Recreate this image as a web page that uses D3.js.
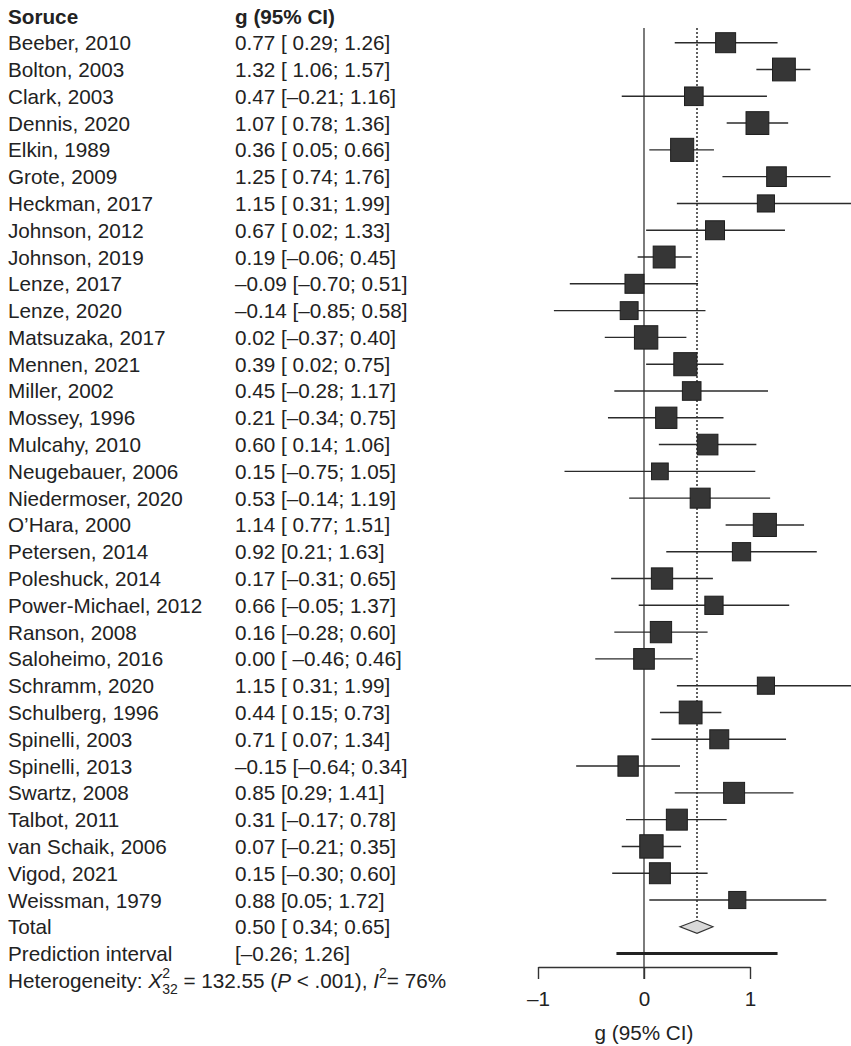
<!DOCTYPE html>
<html>
<head>
<meta charset="utf-8">
<script src="https://cdn.jsdelivr.net/npm/d3@7"></script>
<style>
  html, body { margin: 0; padding: 0; background: #fff; }
  svg { display: block; }
  text { font-family: "Liberation Sans", Arial, Helvetica, sans-serif; fill: #222; }
</style>
</head>
<body>
<svg id="chart" width="851" height="1046"></svg>
<script>
// ---------------- DATA ----------------
const studies = ["Beeber, 2010","Bolton, 2003","Clark, 2003","Dennis, 2020","Elkin, 1989","Grote, 2009",
  "Heckman, 2017","Johnson, 2012","Johnson, 2019","Lenze, 2017","Lenze, 2020","Matsuzaka, 2017",
  "Mennen, 2021","Miller, 2002","Mossey, 1996","Mulcahy, 2010","Neugebauer, 2006","Niedermoser, 2020",
  "O\u2019Hara, 2000","Petersen, 2014","Poleshuck, 2014","Power-Michael, 2012","Ranson, 2008",
  "Saloheimo, 2016","Schramm, 2020","Schulberg, 1996","Spinelli, 2003","Spinelli, 2013","Swartz, 2008",
  "Talbot, 2011","van Schaik, 2006","Vigod, 2021","Weissman, 1979"];
const g     = [0.77,1.32,0.47,1.07,0.36,1.25,1.15,0.67,0.19,-0.09,-0.14,0.02,0.39,0.45,0.21,0.60,0.15,0.53,1.14,0.92,0.17,0.66,0.16,0.00,1.15,0.44,0.71,-0.15,0.85,0.31,0.07,0.15,0.88];
const lower = [0.29,1.06,-0.21,0.78,0.05,0.74,0.31,0.02,-0.06,-0.70,-0.85,-0.37,0.02,-0.28,-0.34,0.14,-0.75,-0.14,0.77,0.21,-0.31,-0.05,-0.28,-0.46,0.31,0.15,0.07,-0.64,0.29,-0.17,-0.21,-0.30,0.05];
const upper = [1.26,1.57,1.16,1.36,0.66,1.76,1.99,1.33,0.45,0.51,0.58,0.40,0.75,1.17,0.75,1.06,1.05,1.19,1.51,1.63,0.65,1.37,0.60,0.46,1.99,0.73,1.34,0.34,1.41,0.78,0.35,0.60,1.72];
const weights = [3.0,3.9,2.6,3.9,4.0,2.9,2.2,2.7,3.6,2.7,2.4,4.1,4.0,2.6,3.4,3.2,2.1,3.0,4.0,2.5,3.4,2.5,3.4,3.2,2.2,3.9,2.7,3.1,3.3,3.3,4.1,3.3,2.2];
const ciText = ["0.77 [ 0.29; 1.26]","1.32 [ 1.06; 1.57]","0.47 [\u20130.21; 1.16]","1.07 [ 0.78; 1.36]",
  "0.36 [ 0.05; 0.66]","1.25 [ 0.74; 1.76]","1.15 [ 0.31; 1.99]","0.67 [ 0.02; 1.33]","0.19 [\u20130.06; 0.45]",
  "\u20130.09 [\u20130.70; 0.51]","\u20130.14 [\u20130.85; 0.58]","0.02 [\u20130.37; 0.40]","0.39 [ 0.02; 0.75]",
  "0.45 [\u20130.28; 1.17]","0.21 [\u20130.34; 0.75]","0.60 [ 0.14; 1.06]","0.15 [\u20130.75; 1.05]",
  "0.53 [\u20130.14; 1.19]","1.14 [ 0.77; 1.51]","0.92 [0.21; 1.63]","0.17 [\u20130.31; 0.65]",
  "0.66 [\u20130.05; 1.37]","0.16 [\u20130.28; 0.60]","0.00 [ \u20130.46; 0.46]","1.15 [ 0.31; 1.99]",
  "0.44 [ 0.15; 0.73]","0.71 [ 0.07; 1.34]","\u20130.15 [\u20130.64; 0.34]","0.85 [0.29; 1.41]",
  "0.31 [\u20130.17; 0.78]","0.07 [\u20130.21; 0.35]","0.15 [\u20130.30; 0.60]","0.88 [0.05; 1.72]"];
const total = {g: 0.50, lower: 0.34, upper: 0.65, text: "0.50 [ 0.34; 0.65]"};
const prediction = {lower: -0.26, upper: 1.26, text: "[\u20130.26; 1.26]"};
const headers = ["Soruce", "g (95% CI)"];
const xTicks = [-1, 0, 1];
const xTickLabels = ["\u20131", "0", "1"];
const axisTitle = "g (95% CI)";

// ---------------- LAYOUT ----------------
const svg = d3.select("#chart");
const FS = 20.7;
const col1 = 8, col2 = 235;
const x = d3.scaleLinear().domain([-1, 1]).range([538, 750]);
const nRows = studies.length;               // 33
const y = d3.scaleLinear().domain([0, nRows + 1]).range([42.7, 953.6]);
const side = d3.scaleSqrt().domain([0, 3]).range([0, 20]);
const baseOff = 7.5;
const ink = "#2b2b2b";

// header
svg.append("text").attr("x", col1).attr("y", y(-1) + 8.5)
  .attr("font-size", FS).attr("font-weight", "bold").text(headers[0]);
svg.append("text").attr("x", col2).attr("y", y(-1) + 8.5)
  .attr("font-size", FS).attr("font-weight", "bold").text(headers[1]);

// study labels
const rows = studies.map((s, i) => ({s, g: g[i], lo: lower[i], hi: upper[i], w: weights[i], t: ciText[i], i}));
svg.selectAll("text.study").data(rows).join("text").attr("class", "study")
  .attr("x", col1).attr("y", d => y(d.i) + baseOff).attr("font-size", FS).text(d => d.s);
svg.selectAll("text.ci").data(rows).join("text").attr("class", "ci")
  .attr("x", col2).attr("y", d => y(d.i) + baseOff).attr("font-size", FS).text(d => d.t);

// total & prediction text
svg.append("text").attr("x", col1).attr("y", y(nRows) + baseOff).attr("font-size", FS).text("Total");
svg.append("text").attr("x", col2).attr("y", y(nRows) + baseOff).attr("font-size", FS).text(total.text);
svg.append("text").attr("x", col1).attr("y", y(nRows + 1) + baseOff).attr("font-size", FS).text("Prediction interval");
svg.append("text").attr("x", col2).attr("y", y(nRows + 1) + baseOff).attr("font-size", FS).text(prediction.text);

// heterogeneity line, built from pieces
(function () {
  const base = y(nRows + 2) + baseOff;
  let cx = col1;
  function piece(str, opts) {
    opts = opts || {};
    const t = svg.append("text").attr("x", cx).attr("y", base + (opts.dy || 0))
      .attr("font-size", opts.size || FS).attr("font-style", opts.italic ? "italic" : null).text(str);
    t.attr("xml:space", "preserve").style("white-space", "pre");
    return t.node().getComputedTextLength();
  }
  cx += piece("Heterogeneity: ");
  cx += piece("X", {italic: true});
  const w1 = piece("2", {size: 14, dy: -10});
  const w2 = piece("32", {size: 14, dy: 6});
  cx += Math.max(w1, w2);
  cx += piece(" = 132.55 (");
  cx += piece("P", {italic: true});
  cx += piece(" < .001), ");
  cx += piece("I", {italic: true});
  cx += piece("2", {size: 14, dy: -10});
  cx += piece("= 76%");
})();

// vertical reference lines
const yTop = 28;
const axisY = 967;
svg.append("line").attr("x1", x(0)).attr("x2", x(0)).attr("y1", yTop).attr("y2", axisY + 12)
  .attr("stroke", "#444").attr("stroke-width", 1.4);
svg.append("line").attr("x1", x(total.g)).attr("x2", x(total.g)).attr("y1", yTop).attr("y2", y(nRows) - 6.5)
  .attr("stroke", "#444").attr("stroke-width", 1.7).attr("stroke-dasharray", "2,2");

// CI lines
svg.selectAll("line.ci").data(rows).join("line").attr("class", "ci")
  .attr("x1", d => x(d.lo)).attr("x2", d => x(d.hi))
  .attr("y1", d => y(d.i)).attr("y2", d => y(d.i))
  .attr("stroke", ink).attr("stroke-width", 1.4);

// squares
svg.selectAll("rect.sq").data(rows).join("rect").attr("class", "sq")
  .attr("x", d => x(d.g) - side(d.w) / 2).attr("y", d => y(d.i) - side(d.w) / 2)
  .attr("width", d => side(d.w)).attr("height", d => side(d.w))
  .attr("fill", "#363636").attr("stroke", "#1e1e1e").attr("stroke-width", 1);

// diamond
const ty = y(nRows), hh = 6.5;
svg.append("path")
  .attr("d", `M${x(total.lower)},${ty} L${x(total.g)},${ty - hh} L${x(total.upper)},${ty} L${x(total.g)},${ty + hh} Z`)
  .attr("fill", "#d9d9d9").attr("stroke", "#333").attr("stroke-width", 1.2);

// prediction interval
svg.append("line").attr("x1", x(prediction.lower)).attr("x2", x(prediction.upper))
  .attr("y1", y(nRows + 1)).attr("y2", y(nRows + 1))
  .attr("stroke", "#222").attr("stroke-width", 3);

// axis
const axis = d3.axisBottom(x).tickValues(xTicks).tickFormat((d, i) => xTickLabels[i])
  .tickSizeInner(12).tickSizeOuter(0).tickPadding(12.5);
const ax = svg.append("g").attr("transform", `translate(0,${axisY})`).call(axis);
ax.select(".domain").attr("stroke", "#333").attr("stroke-width", 1.4);
ax.selectAll(".tick line").attr("stroke", "#333").attr("stroke-width", 1.4);
ax.selectAll(".tick text").attr("font-size", FS).attr("fill", "#222")
  .attr("font-family", "'Liberation Sans', Arial, sans-serif");
svg.append("text").attr("x", x(0)).attr("y", 1040).attr("text-anchor", "middle")
  .attr("font-size", FS).text(axisTitle);
</script>
</body>
</html>
